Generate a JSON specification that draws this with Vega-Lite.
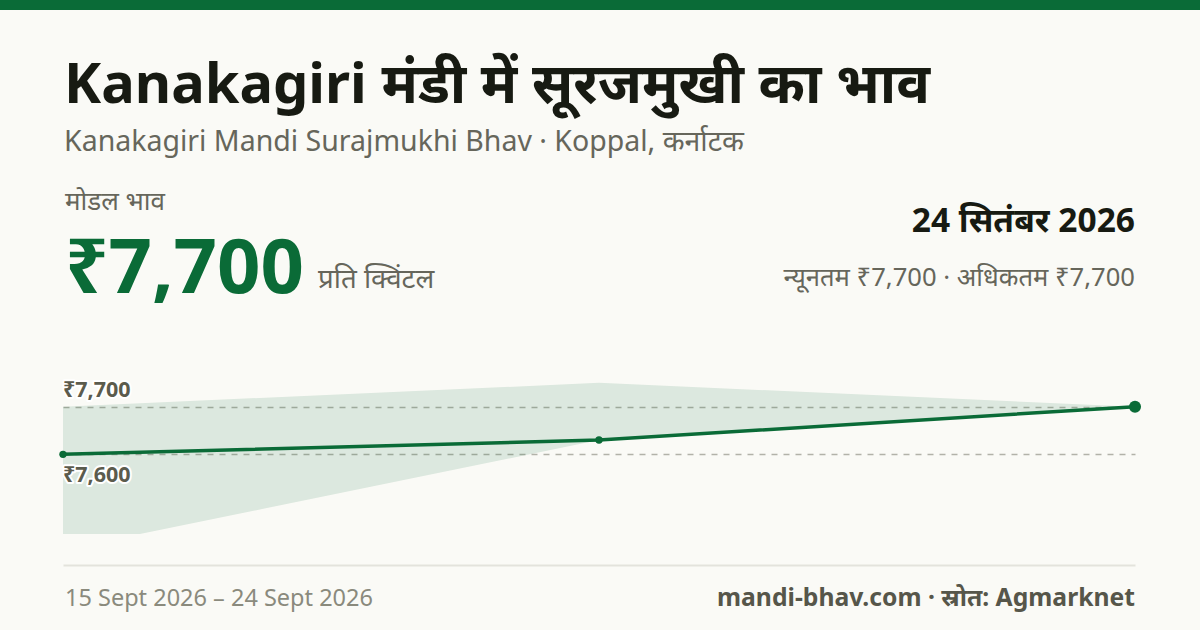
{
  "$schema": "https://vega.github.io/schema/vega-lite/v6.json",
  "width": 1072,
  "height": 175,
  "autosize": {"type": "none"},
  "padding": {"left": 63, "top": 359, "right": 65, "bottom": 96},
  "background": "#fafaf6",
  "config": {"view": {"stroke": null}, "font": "Noto Sans"},
  "datasets": {
    "series": [
      {"i": 0, "date": "15 Sept 2026", "modal": 7600, "min": 7400, "max": 7700},
      {"i": 1, "date": "", "modal": 7630, "min": 7630, "max": 7750},
      {"i": 2, "date": "24 Sept 2026", "modal": 7700, "min": 7700, "max": 7700}
    ],
    "grid": [
      {"v": 7700, "label": "₹7,700"},
      {"v": 7600, "label": "₹7,600"}
    ],
    "text": [
      {"k": "title", "t": "Kanakagiri मंडी में सूरजमुखी का भाव"},
      {"k": "sub", "t": "Kanakagiri Mandi Surajmukhi Bhav · Koppal, कर्नाटक"},
      {"k": "modlabel", "t": "मोडल भाव"},
      {"k": "price", "t": "₹7,700"},
      {"k": "unit", "t": "प्रति क्विंटल"},
      {"k": "date", "t": "24 सितंबर 2026"},
      {"k": "minmax", "t": "न्यूनतम ₹7,700 · अधिकतम ₹7,700"},
      {"k": "range", "t": "15 Sept 2026 – 24 Sept 2026"},
      {"k": "source", "t": "mandi-bhav.com · स्रोत: Agmarknet"}
    ]
  },
  "layer": [
    {
      "data": {"values": [{}]},
      "mark": {"type": "rect", "color": "#0a6b37", "x": -63, "x2": 1137, "y": -359, "y2": -349},
      "encoding": {}
    },
    {
      "data": {"name": "series"},
      "mark": {"type": "area", "color": "#0a6b37", "opacity": 0.12, "clip": true},
      "encoding": {
        "x": {"field": "i", "type": "quantitative", "scale": {"domain": [0, 2]},
          "axis": {"title": null, "labels": false, "ticks": false, "grid": false, "domain": true, "domainColor": "#e3e3dc", "domainWidth": 2, "offset": 31}},
        "y": {"field": "min", "type": "quantitative", "scale": {"domain": [7433, 7800], "zero": false, "nice": false},
          "axis": {"title": null, "labels": false, "ticks": false, "domain": false, "grid": true, "values": [7600, 7700], "gridColor": "#b2b2a9", "gridDash": [6, 6], "gridWidth": 1.5}},
        "y2": {"field": "max"}
      }
    },
    {
      "data": {"name": "series"},
      "mark": {"type": "line", "color": "#0a6b37", "strokeWidth": 3.5},
      "encoding": {
        "x": {"field": "i", "type": "quantitative"},
        "y": {"field": "modal", "type": "quantitative"}
      }
    },
    {
      "data": {"name": "series"},
      "transform": [{"filter": "datum.i < 2"}],
      "mark": {"type": "point", "filled": true, "color": "#0a6b37", "opacity": 1, "size": 55},
      "encoding": {
        "x": {"field": "i", "type": "quantitative"},
        "y": {"field": "modal", "type": "quantitative"}
      }
    },
    {
      "data": {"name": "series"},
      "transform": [{"filter": "datum.i == 2"}],
      "mark": {"type": "point", "filled": true, "color": "#0a6b37", "opacity": 1, "size": 145},
      "encoding": {
        "x": {"field": "i", "type": "quantitative"},
        "y": {"field": "modal", "type": "quantitative"}
      }
    },
    {
      "data": {"name": "grid"},
      "transform": [{"filter": "datum.v == 7700"}],
      "mark": {"type": "text", "align": "left", "baseline": "alphabetic", "dy": -10, "x": 0, "fontSize": 21.5, "fontWeight": "bold", "color": "#5b5b4d", "stroke": "#ffffff", "strokeWidth": 4, "strokeJoin": "round"},
      "encoding": {"y": {"field": "v", "type": "quantitative"}, "text": {"field": "label"}}
    },
    {
      "data": {"name": "grid"},
      "transform": [{"filter": "datum.v == 7700"}],
      "mark": {"type": "text", "align": "left", "baseline": "alphabetic", "dy": -10, "x": 0, "fontSize": 21.5, "fontWeight": "bold", "color": "#5b5b4d"},
      "encoding": {"y": {"field": "v", "type": "quantitative"}, "text": {"field": "label"}}
    },
    {
      "data": {"name": "grid"},
      "transform": [{"filter": "datum.v == 7600"}],
      "mark": {"type": "text", "align": "left", "baseline": "alphabetic", "dy": 28, "x": 0, "fontSize": 21.5, "fontWeight": "bold", "color": "#5b5b4d", "stroke": "#ffffff", "strokeWidth": 4, "strokeJoin": "round"},
      "encoding": {"y": {"field": "v", "type": "quantitative"}, "text": {"field": "label"}}
    },
    {
      "data": {"name": "grid"},
      "transform": [{"filter": "datum.v == 7600"}],
      "mark": {"type": "text", "align": "left", "baseline": "alphabetic", "dy": 28, "x": 0, "fontSize": 21.5, "fontWeight": "bold", "color": "#5b5b4d"},
      "encoding": {"y": {"field": "v", "type": "quantitative"}, "text": {"field": "label"}}
    },
    {
      "data": {"name": "text"},
      "transform": [{"filter": "datum.k == 'title'"}],
      "mark": {"type": "text", "align": "left", "baseline": "alphabetic", "x": 1, "y": -256, "fontSize": 56, "fontWeight": "bold", "color": "#171a12"},
      "encoding": {"text": {"field": "t"}}
    },
    {
      "data": {"name": "text"},
      "transform": [{"filter": "datum.k == 'sub'"}],
      "mark": {"type": "text", "align": "left", "baseline": "alphabetic", "x": 1, "y": -208, "fontSize": 28.5, "color": "#66665b"},
      "encoding": {"text": {"field": "t"}}
    },
    {
      "data": {"name": "text"},
      "transform": [{"filter": "datum.k == 'modlabel'"}],
      "mark": {"type": "text", "align": "left", "baseline": "alphabetic", "x": 2, "y": -149, "fontSize": 26, "color": "#66665b"},
      "encoding": {"text": {"field": "t"}}
    },
    {
      "data": {"name": "text"},
      "transform": [{"filter": "datum.k == 'price'"}],
      "mark": {"type": "text", "align": "left", "baseline": "alphabetic", "x": 2, "y": -66, "fontSize": 76, "fontWeight": "bold", "color": "#0a6b37"},
      "encoding": {"text": {"field": "t"}}
    },
    {
      "data": {"name": "text"},
      "transform": [{"filter": "datum.k == 'unit'"}],
      "mark": {"type": "text", "align": "left", "baseline": "alphabetic", "x": 255, "y": -71, "fontSize": 27.7, "color": "#66665b"},
      "encoding": {"text": {"field": "t"}}
    },
    {
      "data": {"name": "text"},
      "transform": [{"filter": "datum.k == 'date'"}],
      "mark": {"type": "text", "align": "right", "baseline": "alphabetic", "x": 1072, "y": -127, "fontSize": 33.5, "fontWeight": "bold", "color": "#171a12"},
      "encoding": {"text": {"field": "t"}}
    },
    {
      "data": {"name": "text"},
      "transform": [{"filter": "datum.k == 'minmax'"}],
      "mark": {"type": "text", "align": "right", "baseline": "alphabetic", "x": 1072, "y": -73, "fontSize": 25.6, "color": "#66665b"},
      "encoding": {"text": {"field": "t"}}
    },
    {
      "data": {"name": "text"},
      "transform": [{"filter": "datum.k == 'range'"}],
      "mark": {"type": "text", "align": "left", "baseline": "alphabetic", "x": 2, "y": 247, "fontSize": 23.5, "color": "#8a8a7d"},
      "encoding": {"text": {"field": "t"}}
    },
    {
      "data": {"name": "text"},
      "transform": [{"filter": "datum.k == 'source'"}],
      "mark": {"type": "text", "align": "right", "baseline": "alphabetic", "x": 1072, "y": 247, "fontSize": 24.7, "fontWeight": "bold", "color": "#56564a"},
      "encoding": {"text": {"field": "t"}}
    }
  ]
}
